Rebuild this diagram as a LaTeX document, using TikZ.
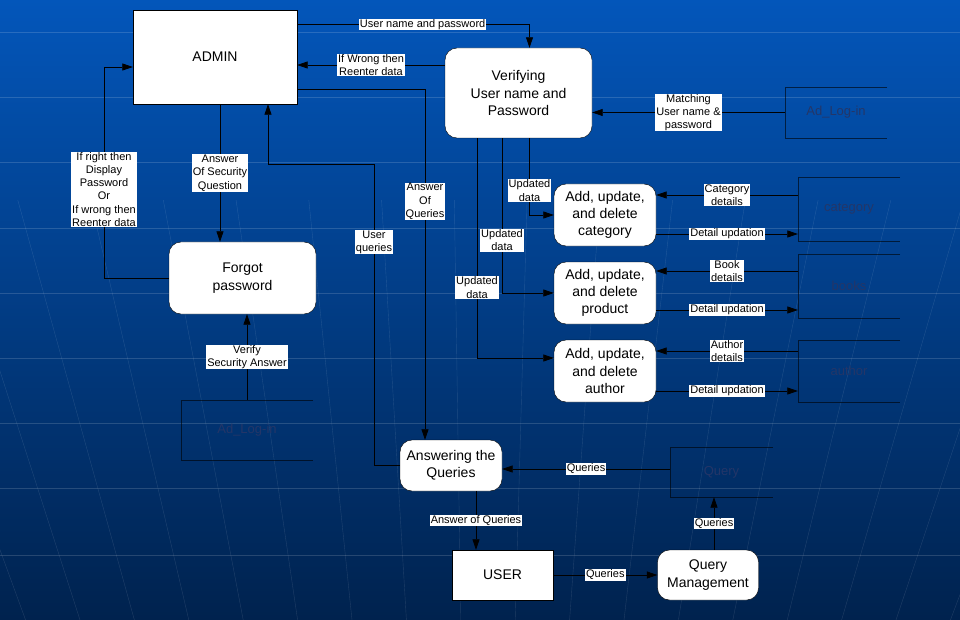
\documentclass[tikz,border=0pt]{standalone}
\usepackage{fontspec}
\setmainfont{Liberation Sans}
\usetikzlibrary{arrows.meta, calc}
\definecolor{bgtop}{RGB}{3,86,186}
\definecolor{bgmid}{RGB}{0,70,155}
\definecolor{bgbot}{RGB}{0,34,78}
\definecolor{storetext}{RGB}{36,54,104}
\tikzstyle{entity} = [rectangle, draw=black, fill=white, text centered, font=\fontsize{14}{17}\selectfont]
\tikzstyle{process} = [rectangle, rounded corners=12pt, draw=black, fill=white, align=center, font=\fontsize{14}{17.3}\selectfont]
\tikzstyle{store} = [rectangle, text=storetext, font=\fontsize{13}{15}\selectfont]
\tikzstyle{storeline} = [draw=black, opacity=0.6]
\tikzstyle{lbl} = [fill=white, inner xsep=1pt, inner ysep=0.5pt, align=center, font=\fontsize{11}{13.3}\selectfont]
\tikzstyle{arrow} = [line width=0.7pt, ->, >={Triangle[length=10.5pt,width=7pt]}]

\begin{document}
\begin{tikzpicture}[x=1pt, y=-1pt, node distance=78pt]
\useasboundingbox (0,0) rectangle (960,620);
% background
\begin{scope}
\clip (0,0) rectangle (960,620);
\shade [top color=bgtop, middle color=bgmid, bottom color=bgbot] (0,0) rectangle (960,620);
\foreach \yy in {32,97,162,228,293,358,423,488,555}
    \draw [white, opacity=0.15] (0,\yy) -- (960,\yy);
\foreach \oo in {-568,-500,...,600}
    \draw [white, opacity=0.12] ($(480,200)+(1.07*\oo,0)$) -- ($(480,620)+(0.8*\oo,0)$);
\end{scope}

    \node (admin)  [entity, minimum width=164pt, minimum height=94pt] at (215,57) {ADMIN};
    \node (verify) [process, minimum width=147pt, minimum height=90pt] at (518.5,93) {Verifying\\User name and\\Password};
    \node (forgot) [process, minimum width=147pt, minimum height=72pt] at (242.5,278) {Forgot\\password};

    \node (cat)  [process, minimum width=102pt, minimum height=62pt] at (605,215) {Add, update,\\and delete\\category};
    \node (prod) [process, minimum width=102pt, minimum height=62pt, below of=cat] {Add, update,\\and delete\\product};
    \node (auth) [process, minimum width=102pt, minimum height=62pt, below of=prod] {Add, update,\\and delete\\author};

    \node (answer) [process, minimum width=102pt, minimum height=51pt] at (451,465.5) {Answering the\\Queries};
    \node (user)   [entity, minimum width=101pt, minimum height=50pt] at (502.5,575) {USER};
    \node (qmgmt)  [process, minimum width=101pt, minimum height=50pt] at (708,575) {Query\\Management};

    % data stores
    \node (adlogtop)   [store, minimum width=102pt, minimum height=51pt] at (836,112.5) {Ad\_Log-in};
    \node (adlogbot)   [store, minimum width=132pt, minimum height=60pt] at (247,430) {Ad\_Log-in};
    \node (catstore)   [store, minimum width=102pt, minimum height=64pt] at (849,209) {category};
    \node (bookstore)  [store, minimum width=102pt, minimum height=64pt] at (849,286) {books};
    \node (authstore)  [store, minimum width=102pt, minimum height=62pt] at (849,371) {author};
    \node (querystore) [store, minimum width=103pt, minimum height=50pt] at (721.5,472) {Query};

\foreach \s in {adlogtop, adlogbot, catstore, bookstore, authstore, querystore}
    \draw [storeline] (\s.north east) -- (\s.north west) -- (\s.south west) -- (\s.south east);

    \coordinate (wrongstart) at ([yshift=28pt]verify.west);
    \coordinate (uqturn) at (374,164);
    \coordinate (secstart) at ([xshift=5pt]admin.south);
    \coordinate (pwturn) at (104,67);

\draw [arrow] ([yshift=-15pt]admin.north east) -| node[lbl, pos=0.27] {User name and password} ([xshift=11pt]verify.north);
\draw [arrow] (wrongstart) -- node[lbl] {If Wrong then\\Reenter data} (wrongstart -| admin.east);
\draw [arrow] ([yshift=-32pt]admin.east) -| node[lbl, pos=0.66] {Answer\\Of\\Queries} ([xshift=-26pt]answer.north);
\draw [arrow] (answer.west) -| node[lbl, pos=0.87] {User\\queries} (uqturn)
                            -| ([xshift=53pt]admin.south);

\draw [arrow] (secstart) -- node[lbl] {Answer\\Of Security\\Question} (secstart |- forgot.north);
\draw [arrow] (forgot.west) -| node[lbl, pos=0.71] {If right then\\Display\\Password\\Or\\If wrong then\\Reenter data} (pwturn)
                            -- ([yshift=-10pt]admin.west);
\draw [arrow] (adlogbot.north) -- node[lbl] {Verify\\Security Answer} (adlogbot.north |- forgot.south);

\draw [arrow] (adlogtop.west) -- node[lbl] {Matching\\User name \&\\password} (adlogtop.west -| verify.east);

\draw [arrow] ([xshift=11pt]verify.south) |- node[lbl, pos=0.34] {Updated\\data} (cat.west);
\draw [arrow] ([xshift=-16.5pt]verify.south) |- node[lbl, pos=0.33] {Updated\\data} (prod.west);
\draw [arrow] ([xshift=-41.5pt]verify.south) |- node[lbl, pos=0.34] {Updated\\data} ([yshift=13pt]auth.west);

    \coordinate (catin) at ([yshift=14pt]catstore.west);
    \coordinate (catout) at ([yshift=-19pt]cat.east);
    \coordinate (bookin) at ([yshift=15pt]bookstore.west);
    \coordinate (bookout) at ([yshift=-17pt]prod.east);
    \coordinate (authin) at ([yshift=20pt]authstore.west);
    \coordinate (authout) at ([yshift=-20pt]auth.east);

\draw [arrow] (catin) -- node[lbl] {Category\\details} (catin -| cat.east);
\draw [arrow] (catout) -- node[lbl] {Detail updation} (catout -| catstore.west);
\draw [arrow] (bookin) -- node[lbl] {Book\\details} (bookin -| prod.east);
\draw [arrow] (bookout) -- node[lbl] {Detail updation} (bookout -| bookstore.west);
\draw [arrow] (authin) -- node[lbl] {Author\\details} (authin -| auth.east);
\draw [arrow] (authout) -- node[lbl] {Detail updation} (authout -| authstore.west);

    \coordinate (qin) at ([yshift=3pt]querystore.west);
    \coordinate (aq) at ([xshift=25pt]answer.south);
    \coordinate (qm) at ([xshift=6pt]qmgmt.north);

\draw [arrow] (qin) -- node[lbl] {Queries} (qin -| answer.east);
\draw [arrow] (aq) -- node[lbl] {Answer of Queries} (aq |- user.north);
\draw [arrow] (user.east) -- node[lbl] {Queries} (qmgmt.west);
\draw [arrow] (qm) -- node[lbl] {Queries} (qm |- querystore.south);

\end{tikzpicture}
\end{document}
